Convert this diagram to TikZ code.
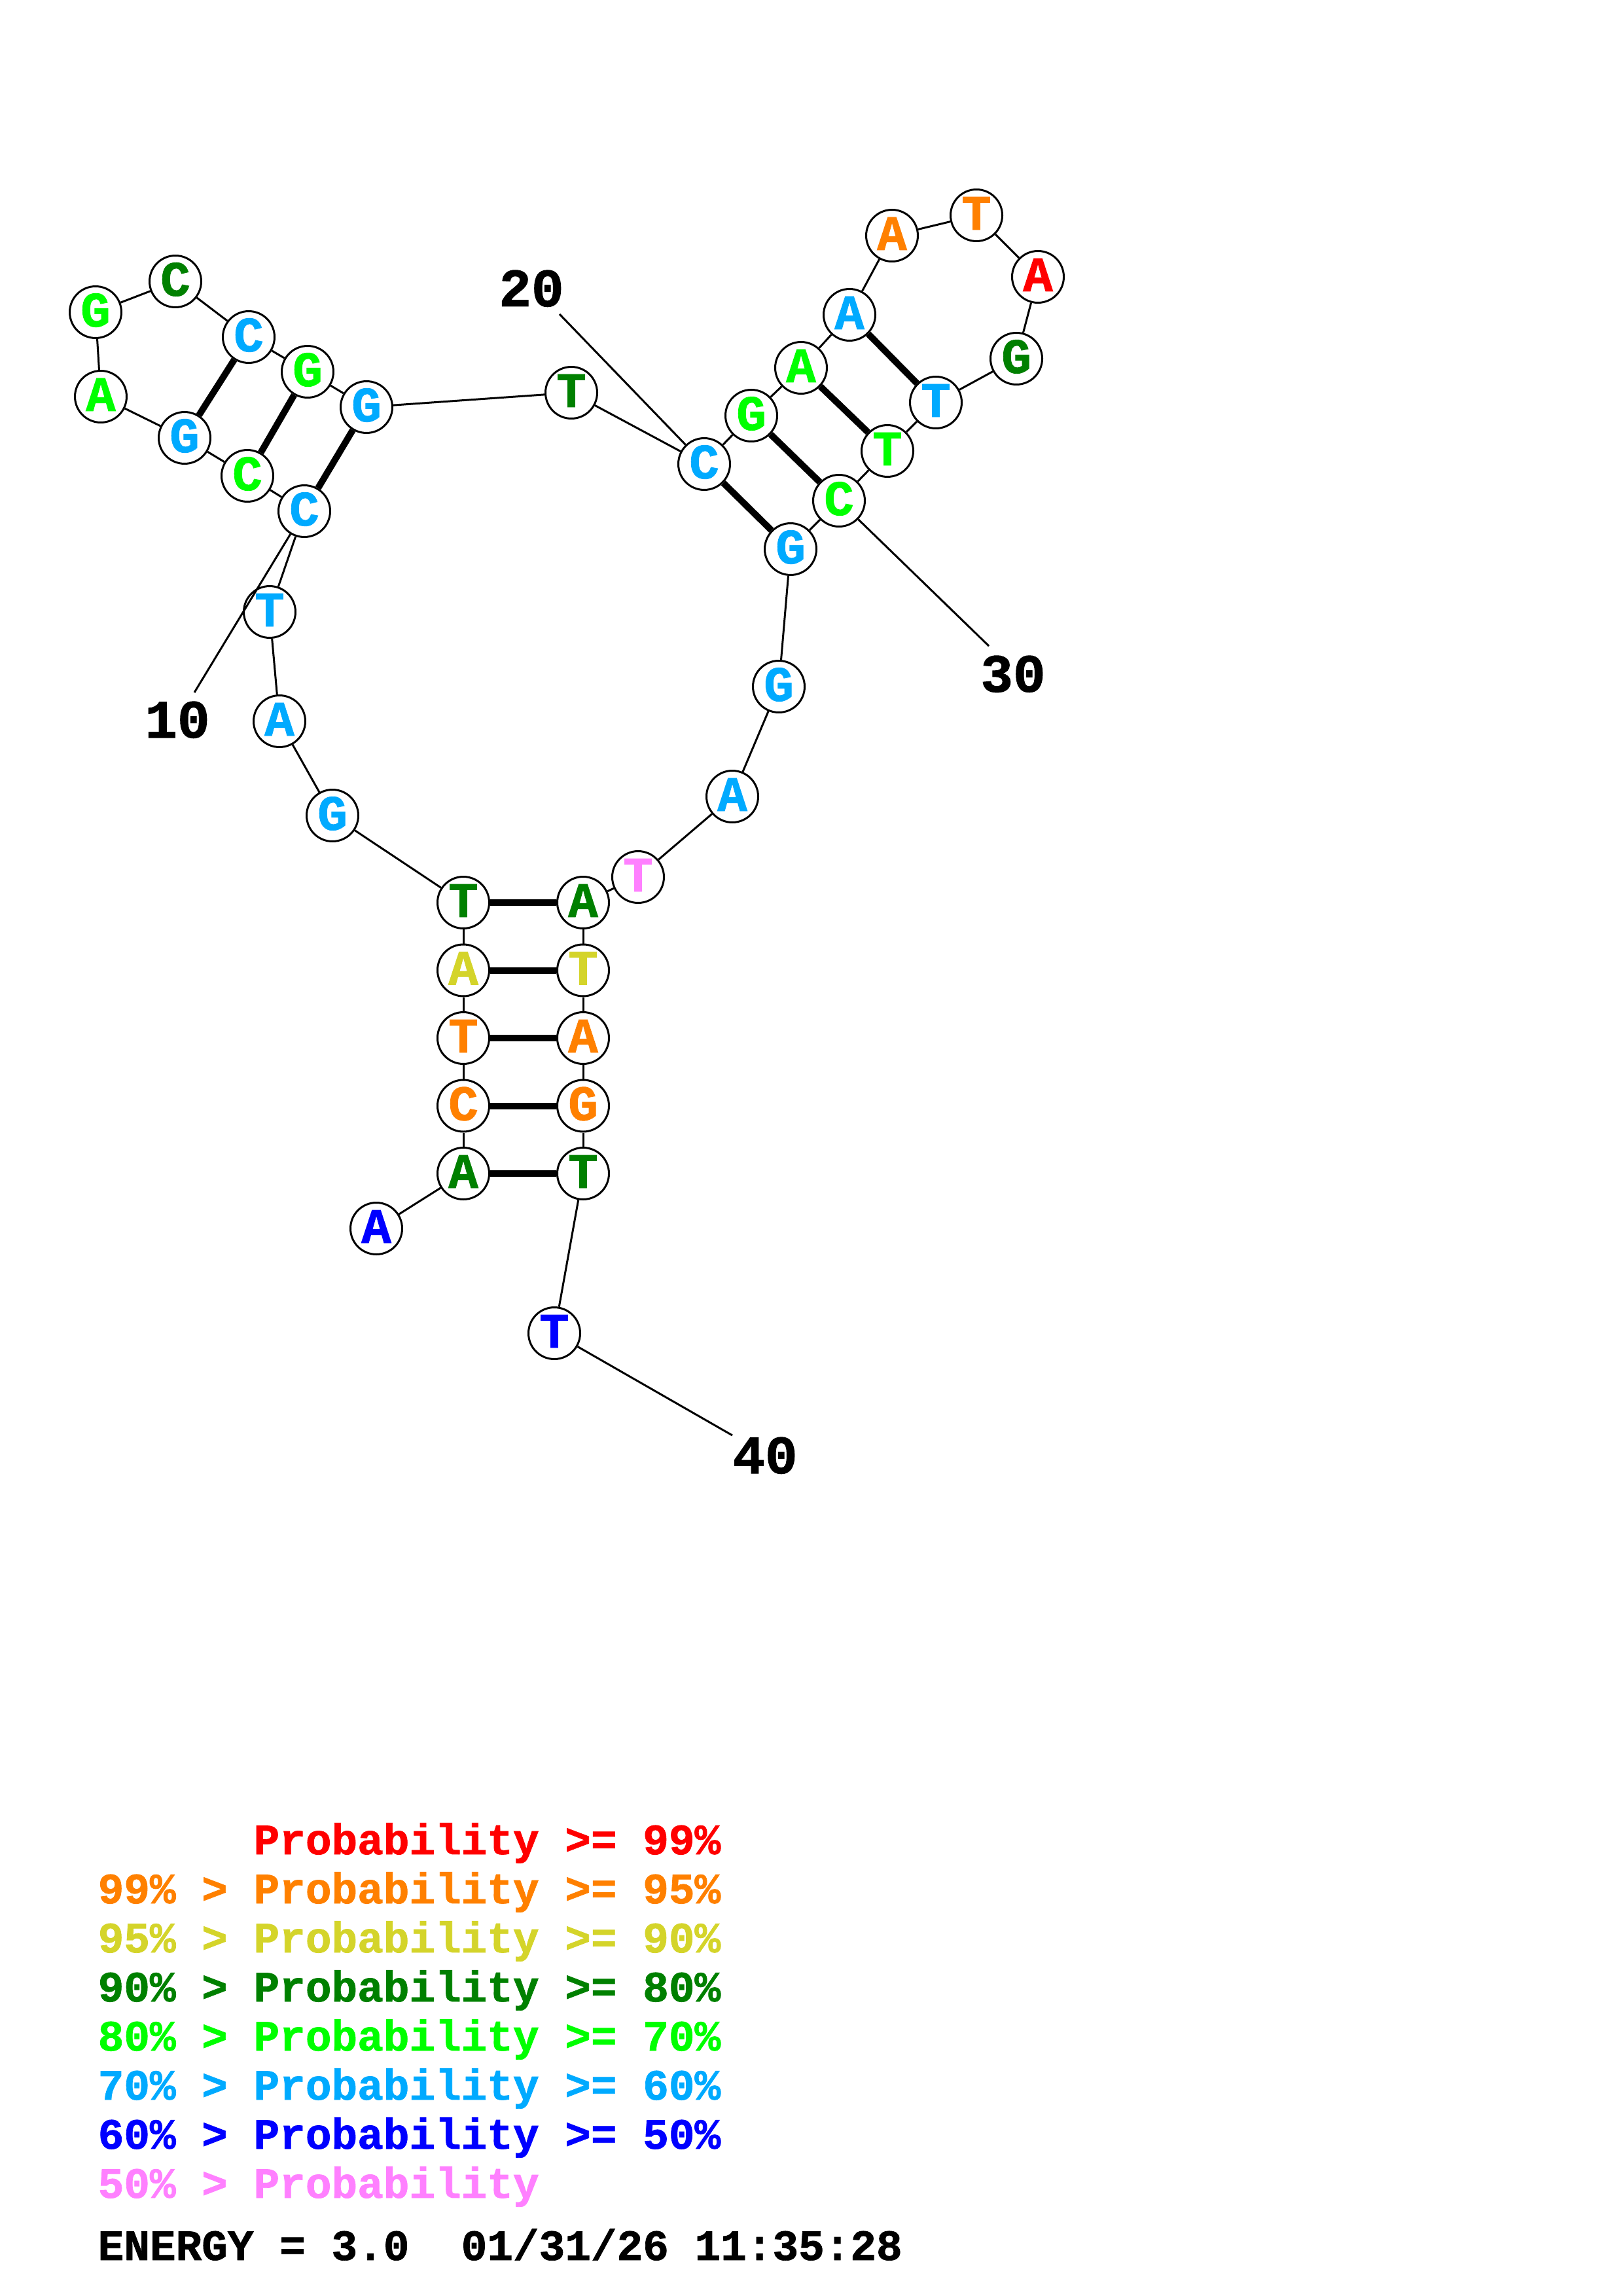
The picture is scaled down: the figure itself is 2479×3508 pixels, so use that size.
\documentclass[tikz,border=0pt]{standalone}
\usepackage{fontspec}
\setmainfont{Liberation Mono}[BoldFeatures={FakeBold=1.2}]
\definecolor{cred}{RGB}{255,0,0}
\definecolor{corange}{RGB}{255,128,0}
\definecolor{cyellow}{RGB}{212,212,42}
\definecolor{cdkgreen}{RGB}{0,128,0}
\definecolor{cgreen}{RGB}{0,255,0}
\definecolor{csky}{RGB}{0,170,255}
\definecolor{cblue}{RGB}{0,0,255}
\definecolor{cpink}{RGB}{255,128,255}
\tikzset{
  nt/.style={circle, draw=black, line width=0.3mm, fill=white, minimum size=7.9mm, inner sep=0pt,
    font=\fontsize{21.6pt}{24pt}\selectfont\bfseries, text height=4.4mm, text depth=0pt},
  bb/.style={line width=0.3mm},
  bp/.style={line width=1mm},
  lbl/.style={inner sep=0pt, font=\fontsize{23.5pt}{26pt}\selectfont\bfseries, text height=5mm, text depth=0pt},
  leg/.style={anchor=base west, inner sep=0pt, font=\fontsize{18.8pt}{20pt}\selectfont\bfseries}
}
\begin{document}
\begin{tikzpicture}[x=0.1mm, y=-0.1mm]
\useasboundingbox (0,0) rectangle (2479,3508);
% nucleotides
\node[nt, text=cblue]    (n1)  at (575,1877)   {A};
\node[nt, text=cdkgreen] (n2)  at (708,1793)   {A};
\node[nt, text=corange]  (n3)  at (708,1689.5) {C};
\node[nt, text=corange]  (n4)  at (708,1586)   {T};
\node[nt, text=cyellow]  (n5)  at (708,1482.5) {A};
\node[nt, text=cdkgreen] (n6)  at (708,1379)   {T};
\node[nt, text=csky]     (n7)  at (508,1246)   {G};
\node[nt, text=csky]     (n8)  at (427,1102)   {A};
\node[nt, text=csky]     (n9)  at (412,935)    {T};
\node[nt, text=csky]     (n10) at (465,781)    {C};
\node[nt, text=cgreen]   (n11) at (378,727)    {C};
\node[nt, text=csky]     (n12) at (282,669)    {G};
\node[nt, text=cgreen]   (n13) at (154,606)    {A};
\node[nt, text=cgreen]   (n14) at (146,477)    {G};
\node[nt, text=cdkgreen] (n15) at (268,430)    {C};
\node[nt, text=csky]     (n16) at (380,515)    {C};
\node[nt, text=cgreen]   (n17) at (470,568)    {G};
\node[nt, text=csky]     (n18) at (560,622)    {G};
\node[nt, text=cdkgreen] (n19) at (873,600)    {T};
\node[nt, text=csky]     (n20) at (1076,709)   {C};
\node[nt, text=cgreen]   (n21) at (1148,635)   {G};
\node[nt, text=cgreen]   (n22) at (1224,562)   {A};
\node[nt, text=csky]     (n23) at (1298,481)   {A};
\node[nt, text=corange]  (n24) at (1363,360)   {A};
\node[nt, text=corange]  (n25) at (1492,329)   {T};
\node[nt, text=cred]     (n26) at (1586,423)   {A};
\node[nt, text=cdkgreen] (n27) at (1553,548)   {G};
\node[nt, text=csky]     (n28) at (1430,615)   {T};
\node[nt, text=cgreen]   (n29) at (1356,689)   {T};
\node[nt, text=cgreen]   (n30) at (1282,765)   {C};
\node[nt, text=csky]     (n31) at (1208,839)   {G};
\node[nt, text=csky]     (n32) at (1190,1049)  {G};
\node[nt, text=csky]     (n33) at (1119,1217)  {A};
\node[nt, text=cpink]    (n34) at (975,1340)   {T};
\node[nt, text=cdkgreen] (n35) at (891,1379)   {A};
\node[nt, text=cyellow]  (n36) at (891,1482.5) {T};
\node[nt, text=corange]  (n37) at (891,1586)   {A};
\node[nt, text=corange]  (n38) at (891,1689.5) {G};
\node[nt, text=cdkgreen] (n39) at (891,1793)   {T};
\node[nt, text=cblue]    (n40) at (847,2037)   {T};
% backbone
\foreach \i [evaluate=\i as \j using int(\i+1)] in {1,...,39}
  \draw[bb] (n\i) -- (n\j);
% base pairs
\draw[bp] (n2) -- (n39);
\draw[bp] (n3) -- (n38);
\draw[bp] (n4) -- (n37);
\draw[bp] (n5) -- (n36);
\draw[bp] (n6) -- (n35);
\draw[bp] (n10) -- (n18);
\draw[bp] (n11) -- (n17);
\draw[bp] (n12) -- (n16);
\draw[bp] (n20) -- (n31);
\draw[bp] (n21) -- (n30);
\draw[bp] (n22) -- (n29);
\draw[bp] (n23) -- (n28);
% position labels
\node[lbl] (l10) at (271,1102) {10};
\node[lbl] (l20) at (812,443)  {20};
\node[lbl] (l30) at (1548,1032) {30};
\node[lbl] (l40) at (1169,2226) {40};
\coordinate (e10) at (297,1058);
\coordinate (e20) at (855,480);
\coordinate (e30) at (1511,987);
\coordinate (e40) at (1119,2193);
\draw[bb] (e10) -- (n10);
\draw[bb] (e20) -- (n20);
\draw[bb] (e30) -- (n30);
\draw[bb] (e40) -- (n40);
% legend
\node[leg, text=cred]     (g1) at (149,2833) {\hphantom{99\% > }Probability >= 99\%};
\node[leg, text=corange]  (g2) at (149,2908) {99\% > Probability >= 95\%};
\node[leg, text=cyellow]  (g3) at (149,2983) {95\% > Probability >= 90\%};
\node[leg, text=cdkgreen] (g4) at (149,3058) {90\% > Probability >= 80\%};
\node[leg, text=cgreen]   (g5) at (149,3133) {80\% > Probability >= 70\%};
\node[leg, text=csky]     (g6) at (149,3208) {70\% > Probability >= 60\%};
\node[leg, text=cblue]    (g7) at (149,3283) {60\% > Probability >= 50\%};
\node[leg, text=cpink]    (g8) at (149,3358) {50\% > Probability};
\node[leg, text=black]    (g9) at (149,3453) {ENERGY = 3.0\ \ 01/31/26 11:35:28};
\end{tikzpicture}
\end{document}
